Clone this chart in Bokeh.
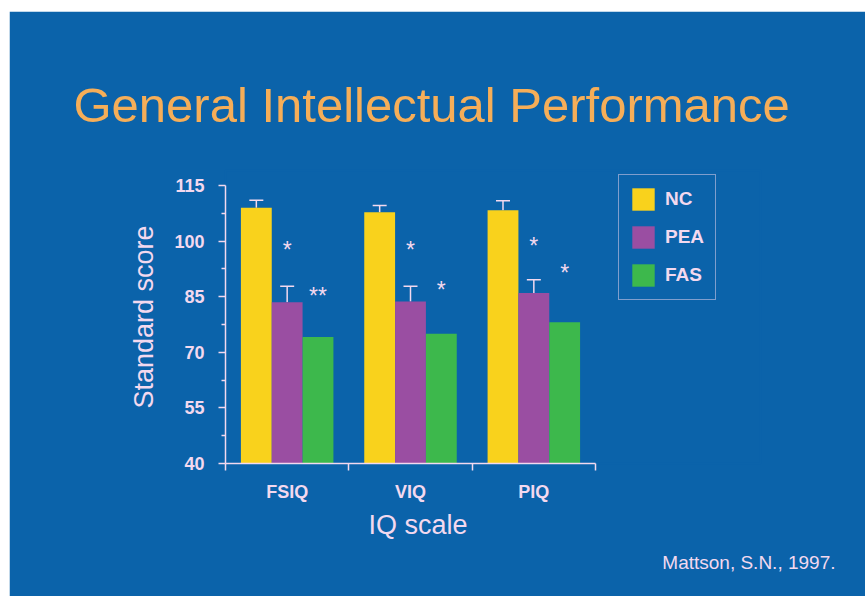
from bokeh.plotting import figure
from bokeh.models import (ColumnDataSource, FixedTicker, Legend, LegendItem,
                          Whisker, TeeHead, Title, Spacer)
from bokeh.layouts import column, row
from bokeh.transform import dodge
from bokeh.core.properties import value
from bokeh.embed import file_html
from bokeh.resources import INLINE

# ---------------- data ----------------
categories = ["FSIQ", "VIQ", "PIQ"]
groups = ["NC", "PEA", "FAS"]
nc = [109.0, 107.8, 108.3]
pea = [83.5, 83.7, 86.0]
fas = [74.1, 75.0, 78.1]
nc_err = [2.0, 1.8, 2.6]
pea_err = [4.3, 4.1, 3.6]
pea_sig = ["*", "*", "*"]
fas_sig = ["**", "*", "*"]
pea_sig_y = [97.5, 97.7, 98.8]
fas_sig_y = [85.3, 86.7, 91.5]
y_ticks = [40, 55, 70, 85, 100, 115]

# ---------------- style / layout ----------------
BG = "#0b63aa"
PINK = "#f3d9ef"
ORANGE = "#f6ae58"
COLORS = ["#f9d21c", "#9a4ea2", "#3db84c"]
FONT = "Liberation Sans"

AXIS_W = 370      # pixel length of the x axis
AXIS_H = 278      # pixel length of the y axis
FRAME_W = 535     # frame extended to the right to hold the legend
FRAME_H = 293     # frame extended upward a little for the legend
n = len(categories)
x_end = n * FRAME_W / AXIS_W
y_end = y_ticks[0] + (y_ticks[-1] - y_ticks[0]) * FRAME_H / AXIS_H

xs = [i + 0.5 for i in range(n)]
src = ColumnDataSource(dict(
    x=xs, cat=categories, nc=nc, pea=pea, fas=fas,
    nc_up=[v + e for v, e in zip(nc, nc_err)],
    pea_up=[v + e for v, e in zip(pea, pea_err)],
    pea_sig=pea_sig, fas_sig=fas_sig, pea_sig_y=pea_sig_y, fas_sig_y=fas_sig_y,
))

p = figure(width=856, height=585, x_range=(0, x_end),
           y_range=(y_ticks[0], y_end), output_backend="svg",
           toolbar_location=None, min_border_left=216,
           min_border_right=856 - 216 - FRAME_W,
           min_border_top=159, min_border_bottom=585 - 159 - FRAME_H)
p.background_fill_color = BG
p.border_fill_color = BG
p.outline_line_color = BG
p.outline_line_width = 2
p.grid.visible = False

W = 0.25
offs = [-W, 0.0, W]
renderers = []
for key, off, col in zip(["nc", "pea", "fas"], offs, COLORS):
    r = p.vbar(x=dodge("x", off), top=key, bottom=y_ticks[0], width=W,
               source=src, fill_color=col, line_color=None)
    renderers.append(r)

for key, off in zip(["nc", "pea"], offs[:2]):
    w = Whisker(source=src, base=dodge("x", off), upper=key + "_up", lower=key,
                dimension="height", line_color=PINK, line_width=1.5,
                upper_head=TeeHead(size=14, line_color=PINK, line_width=1.5),
                lower_head=None)
    p.add_layout(w)

for sig, sy, off in [("pea_sig", "pea_sig_y", offs[1]), ("fas_sig", "fas_sig_y", offs[2])]:
    p.text(x=dodge("x", off), y=sy, text=sig, source=src, text_color=PINK,
           text_font=value(FONT), text_font_size="23px", text_align="center",
           text_baseline="middle")

# axes
xa = p.xaxis[0]
xa.bounds = (0, n)
xa.ticker = FixedTicker(ticks=xs, minor_ticks=list(range(n + 1)))
xa.major_label_overrides = {x: c for x, c in zip(xs, categories)}
xa.major_tick_out = 0
xa.major_tick_in = 0
xa.minor_tick_out = 7
xa.minor_tick_in = 0
xa.major_label_standoff = 11

ya = p.yaxis[0]
ya.bounds = (y_ticks[0], y_ticks[-1])
ya.ticker = FixedTicker(ticks=y_ticks,
                        minor_ticks=[(a + b) / 2 for a, b in zip(y_ticks[:-1], y_ticks[1:])])
ya.major_tick_out = 7
ya.major_tick_in = 0
ya.minor_tick_out = 4
ya.minor_tick_in = 0
ya.major_label_standoff = 14
ya.axis_label = "Standard score"
ya.axis_label_standoff = 12

for ax in (xa, ya):
    ax.axis_line_color = PINK
    ax.axis_line_width = 1.5
    ax.major_tick_line_color = PINK
    ax.minor_tick_line_color = PINK
    ax.major_tick_line_width = 1.5
    ax.minor_tick_line_width = 1.5
    ax.major_label_text_color = PINK
    ax.major_label_text_font = FONT
    ax.major_label_text_font_size = "18px"
    ax.major_label_text_font_style = "bold"
    ax.axis_label_text_color = PINK
    ax.axis_label_text_font = FONT
    ax.axis_label_text_font_size = "27px"
    ax.axis_label_text_font_style = "normal"

# title
p.title.text = "General Intellectual Performance"
p.title.text_font = FONT
p.title.text_font_size = "49px"
p.title.text_font_style = "normal"
p.title.text_color = ORANGE
p.title.align = "left"
p.title.offset = -152
p.title.standoff = 77

# x-axis caption (centred under the three groups, not the wider frame)
iq_label = Title(text="IQ scale", align="left", offset=143,
                 text_font=FONT, text_font_size="27px", text_font_style="normal",
                 text_color=PINK, standoff=7)
p.add_layout(iq_label, "below")

credit = Title(text="Mattson, S.N., 1997.", align="right", offset=-75,
               text_font=FONT, text_font_size="19px", text_font_style="normal",
               text_color=PINK, standoff=13)
p.add_layout(credit, "below")

legend = Legend(items=[LegendItem(label=g, renderers=[r]) for g, r in zip(groups, renderers)],
                location=(393, 163), glyph_width=28, glyph_height=28, spacing=10,
                padding=10, margin=0, label_standoff=8, label_width=40,
                border_line_color=PINK, border_line_width=1.5,
                background_fill_alpha=0, label_text_color=PINK,
                label_text_font=FONT, label_text_font_size="19px",
                label_text_font_style="bold")
p.add_layout(legend)

layout = column(Spacer(width=865, height=11), row(Spacer(width=9, height=585), p))
open("out.html", "w").write(file_html(layout, INLINE))
